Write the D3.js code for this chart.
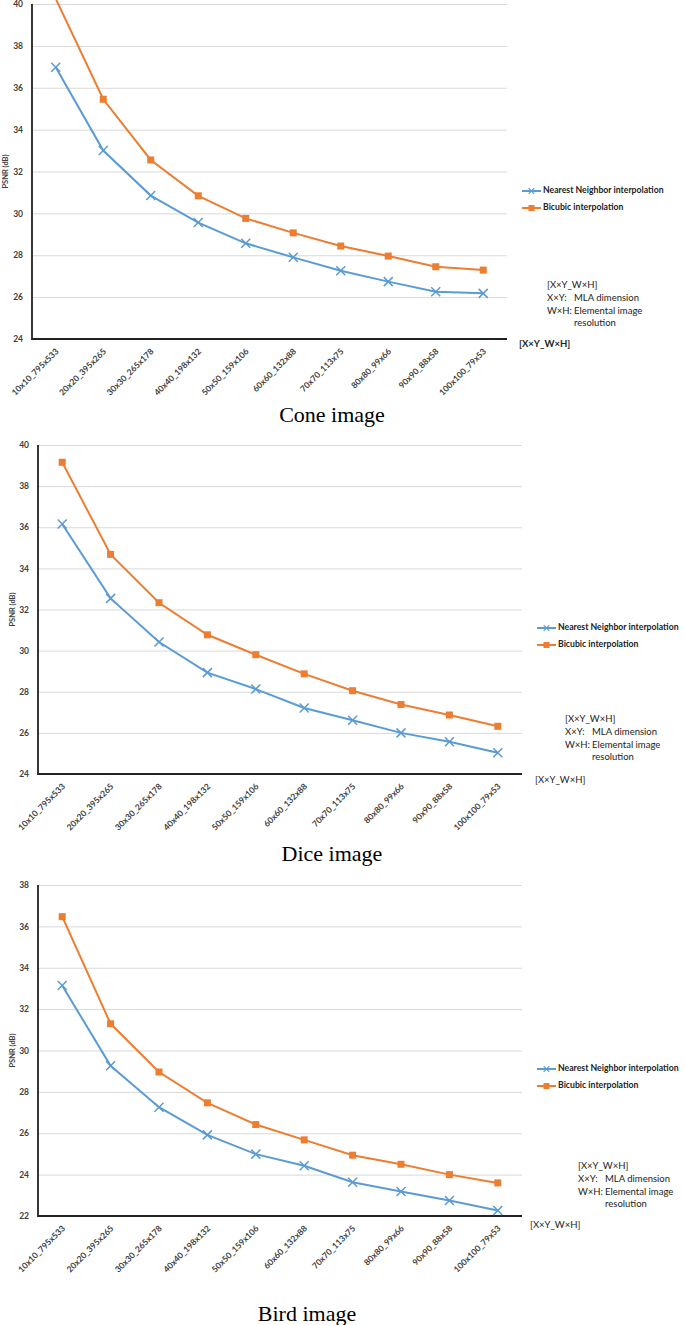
<!DOCTYPE html>
<html>
<head>
<meta charset="utf-8">
<script src="https://d3js.org/d3.v7.min.js"></script>
<style>
  body { margin: 0; background: #fff; }
  svg { display: block; }
  text { font-family: Lato, "Open Sans", sans-serif; }
</style>
</head>
<body>
<svg id="chart" width="685" height="1325"></svg>
<script>

// categories on the x axis (MLA dimension _ elemental image resolution)
var categories = ["10x10_795x533", "20x20_395x265", "30x30_265x178", "40x40_198x132",
  "50x50_159x106", "60x60_132x88", "70x70_113x75", "80x80_99x66", "90x90_88x58", "100x100_79x53"]

var seriesNames = ["Nearest Neighbor interpolation", "Bicubic interpolation"]
var chartTitles = ["Cone image", "Dice image", "Bird image"]

// PSNR values (dB)
var coneNearest = [36.98, 33.0, 30.85, 29.56, 28.57, 27.9, 27.26, 26.74, 26.26, 26.18]
var coneBicubic = [40.25, 35.45, 32.55, 30.84, 29.76, 29.07, 28.44, 27.96, 27.45, 27.29]
var diceNearest = [36.16, 32.54, 30.42, 28.93, 28.13, 27.21, 26.61, 26.0, 25.57, 25.03]
var diceBicubic = [39.16, 34.68, 32.33, 30.77, 29.8, 28.87, 28.05, 27.38, 26.87, 26.32]
var birdNearest = [33.14, 29.26, 27.26, 25.92, 24.99, 24.43, 23.63, 23.18, 22.75, 22.27]
var birdBicubic = [36.47, 31.29, 28.96, 27.47, 26.42, 25.68, 24.94, 24.5, 24.0, 23.6]

// y tick labels
var coneTicks = [24, 26, 28, 30, 32, 34, 36, 38, 40]
var diceTicks = [24, 26, 28, 30, 32, 34, 36, 38, 40]
var birdTicks = [22, 24, 26, 28, 30, 32, 34, 36, 38]

var yTitle = "PSNR (dB)"
var keyLabel = "[X×Y_W×H]"
var noteLines = [["X×Y:", "MLA dimension"], ["W×H:", "Elemental image"], ["", "resolution"]]

var blue = "#5b9bd5"
var orange = "#ed7d31"

// layout of the three panels
var panels = [
  {title: chartTitles[0], nearest: coneNearest, bicubic: coneBicubic, ticks: coneTicks,
   left: 32, right: 507, top: 4, bottom: 339, yLabelX: 6, titleX: 332, titleY: 422,
   legendX: 522, legendY: 191, noteX: 547, noteY: 286, keyX: 519, keyY: 345, keyBold: true},
  {title: chartTitles[1], nearest: diceNearest, bicubic: diceBicubic, ticks: diceTicks,
   left: 38, right: 522, top: 445, bottom: 774, yLabelX: 13, titleX: 332, titleY: 861,
   legendX: 537, legendY: 628, noteX: 565, noteY: 720, keyX: 535, keyY: 781, keyBold: false},
  {title: chartTitles[2], nearest: birdNearest, bicubic: birdBicubic, ticks: birdTicks,
   left: 38, right: 522, top: 885, bottom: 1216, yLabelX: 13, titleX: 307, titleY: 1321,
   legendX: 537, legendY: 1069, noteX: 578, noteY: 1167, keyX: 530, keyY: 1226, keyBold: false}
]

var svg = d3.select("#chart")

function crossPath(r) {
  return "M" + (-r) + "," + (-r) + "L" + r + "," + r + "M" + (-r) + "," + r + "L" + r + "," + (-r)
}

function drawPanel(p, i) {
  var g = svg.append("g")

  var x = d3.scalePoint()
    .domain(categories)
    .range([p.left, p.right])
    .padding(0.5)

  var y = d3.scaleLinear()
    .domain([p.ticks[0], p.ticks[p.ticks.length - 1]])
    .range([p.bottom, p.top])

  // gridlines
  g.append("g")
    .attr("transform", "translate(" + p.left + ",0)")
    .call(d3.axisLeft(y).tickValues(p.ticks).tickSize(-(p.right - p.left)).tickFormat(""))
    .call(function(a) { a.select(".domain").remove() })
    .selectAll("line")
      .attr("stroke", "#d9d9d9")
      .attr("stroke-width", 1)

  // y tick labels
  g.append("g")
    .attr("transform", "translate(" + p.left + ",0)")
    .call(d3.axisLeft(y).tickValues(p.ticks).tickSize(0).tickPadding(9))
    .call(function(a) { a.select(".domain").remove() })
    .selectAll("text")
      .style("font-size", "8.5px")
      .style("font-weight", "bold")
      .attr("fill", "#404040")

  // x tick labels, rotated
  g.append("g")
    .attr("transform", "translate(0," + p.bottom + ")")
    .call(d3.axisBottom(x).tickSize(0))
    .call(function(a) { a.select(".domain").remove() })
    .selectAll("text")
      .attr("y", 0)
      .attr("dy", 0)
      .attr("transform", "translate(3,13) rotate(-45)")
      .style("text-anchor", "end")
      .style("font-size", "8.5px")
      .style("font-weight", "bold")
      .attr("fill", "#404040")

  // axis lines
  g.append("path")
    .attr("d", "M" + p.left + "," + p.top + "V" + p.bottom + "H" + p.right)
    .attr("fill", "none")
    .attr("stroke", "#222")
    .attr("stroke-width", 1.8)

  // y axis title
  g.append("text")
    .attr("transform", "translate(" + p.yLabelX + "," + ((p.top + p.bottom) / 2) + ") rotate(-90)")
    .attr("text-anchor", "middle")
    .attr("dominant-baseline", "middle")
    .style("font-size", "7.5px")
    .style("font-weight", "bold")
    .attr("fill", "#404040")
    .text(yTitle)

  // clip so values above the top tick are cut at the plot edge
  svg.append("clipPath")
    .attr("id", "clip" + i)
    .append("rect")
      .attr("x", p.left - 10)
      .attr("y", p.top - 4)
      .attr("width", p.right - p.left + 20)
      .attr("height", p.bottom - p.top + 14)

  var plot = g.append("g").attr("clip-path", "url(#clip" + i + ")")

  var line = d3.line()
    .x(function(d, j) { return x(categories[j]) })
    .y(function(d) { return y(d) })

  var yMax = p.ticks[p.ticks.length - 1]

  // nearest neighbor series
  plot.append("path")
    .datum(p.nearest)
    .attr("d", line)
    .attr("fill", "none")
    .attr("stroke", blue)
    .attr("stroke-width", 2)

  plot.selectAll(".nn")
    .data(p.nearest)
    .enter()
    .append("path")
      .attr("d", crossPath(4.5))
      .attr("transform", function(d, j) { return "translate(" + x(categories[j]) + "," + y(d) + ")" })
      .attr("stroke", blue)
      .attr("stroke-width", 1.5)

  // bicubic series
  plot.append("path")
    .datum(p.bicubic)
    .attr("d", line)
    .attr("fill", "none")
    .attr("stroke", orange)
    .attr("stroke-width", 2)

  plot.selectAll(".bc")
    .data(p.bicubic.filter(function(d) { return d <= yMax }))
    .enter()
    .append("rect")
      .attr("x", function(d) { return x(categories[p.bicubic.indexOf(d)]) - 3.5 })
      .attr("y", function(d) { return y(d) - 3.5 })
      .attr("width", 7)
      .attr("height", 7)
      .attr("fill", orange)

  // legend
  var legend = g.append("g")
    .attr("transform", "translate(" + p.legendX + "," + p.legendY + ")")

  var items = legend.selectAll("g")
    .data(seriesNames)
    .enter()
    .append("g")
      .attr("transform", function(d, j) { return "translate(0," + (j * 17) + ")" })

  items.append("line")
    .attr("x1", 0).attr("x2", 19)
    .attr("stroke", function(d, j) { return j == 0 ? blue : orange })
    .attr("stroke-width", 2)

  items.filter(function(d, j) { return j == 0 })
    .append("path")
      .attr("d", crossPath(2.8))
      .attr("transform", "translate(9.5,0)")
      .attr("stroke", blue)
      .attr("stroke-width", 1.2)

  items.filter(function(d, j) { return j == 1 })
    .append("rect")
      .attr("x", 6.5).attr("y", -3).attr("width", 6).attr("height", 6)
      .attr("fill", orange)

  items.append("text")
    .attr("x", 21)
    .attr("dominant-baseline", "middle")
    .style("font-size", "8.7px")
    .style("font-weight", "bold")
    .attr("fill", "#222")
    .text(function(d) { return d })

  // note about the label format
  var note = g.append("g")
    .attr("transform", "translate(" + p.noteX + "," + p.noteY + ")")
    .style("font-size", "9.5px")
    .attr("fill", "#222")

  note.append("text")
    .attr("dominant-baseline", "middle")
    .text(keyLabel)

  noteLines.forEach(function(l, j) {
    var t = note.append("text")
      .attr("y", (j + 1) * 12.8)
      .attr("dominant-baseline", "middle")
    t.append("tspan").attr("x", 0).text(l[0])
    t.append("tspan").attr("x", 27).text(l[1])
  })

  g.append("text")
    .attr("x", p.keyX)
    .attr("y", p.keyY)
    .attr("dominant-baseline", "middle")
    .style("font-size", "9.5px")
    .style("font-weight", p.keyBold ? "bold" : "normal")
    .attr("fill", "#222")
    .text(keyLabel)

  // panel caption
  g.append("text")
    .attr("x", p.titleX)
    .attr("y", p.titleY)
    .attr("text-anchor", "middle")
    .style("font-family", "'Liberation Serif', 'Times New Roman', serif")
    .style("font-size", "22px")
    .attr("fill", "#000")
    .text(p.title)
}

panels.forEach(drawPanel)

</script>
</body>
</html>
